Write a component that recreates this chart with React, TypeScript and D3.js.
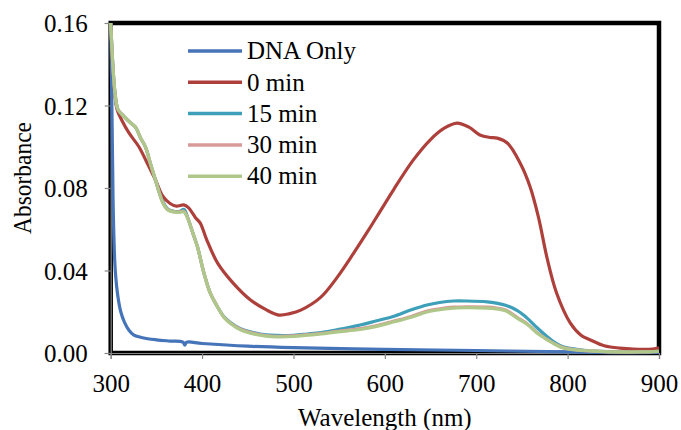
import React, { useEffect, useRef } from "react";
import * as d3 from "d3";

// wavelength (nm) / absorbance pairs
const dnaOnly: [number, number][] = [
  [300, 0.16], [301, 0.13], [302, 0.095], [303, 0.065], [305, 0.04], [308, 0.027],
  [311, 0.02], [315, 0.015], [320, 0.011], [325, 0.0088], [335, 0.0074], [350, 0.0064],
  [365, 0.0058], [379, 0.0053], [381, 0.0038], [383, 0.0052], [400, 0.0046], [450, 0.0033],
  [500, 0.0026], [600, 0.0018], [700, 0.0012], [800, 0.0005], [850, 0.0002], [900, 0.0003],
];

const min0: [number, number][] = [
  [300, 0.16], [302, 0.14], [304, 0.128], [307, 0.118], [312, 0.113], [320, 0.1067],
  [331, 0.0999], [340, 0.092], [349, 0.0839], [357, 0.076], [365, 0.0725], [372, 0.0712],
  [380, 0.0718], [385, 0.0705], [393, 0.0655], [398, 0.063], [405, 0.055], [417, 0.0436],
  [434, 0.0339], [453, 0.0257], [470, 0.021], [484, 0.0184], [496, 0.0191], [508, 0.0208],
  [530, 0.0271], [548, 0.0368], [566, 0.0485], [581, 0.0588], [595, 0.0688], [610, 0.0795],
  [631, 0.0935], [650, 0.1035], [665, 0.109], [679, 0.1115], [692, 0.1095], [704, 0.1057],
  [715, 0.1045], [723, 0.1042], [734, 0.1018], [748, 0.0921], [759, 0.0805], [768, 0.066],
  [778, 0.0451], [788, 0.029], [803, 0.0145], [815, 0.0085], [825, 0.0063], [840, 0.0035],
  [857, 0.0024], [893, 0.0019], [900, 0.0025],
];

const min15: [number, number][] = [
  [300, 0.16], [303, 0.135], [305, 0.125], [308, 0.118], [315, 0.1145], [322, 0.1115],
  [327, 0.1096], [333, 0.104], [338, 0.0999], [344, 0.091], [349, 0.0839], [353, 0.078],
  [357, 0.0735], [362, 0.07], [368, 0.0688], [375, 0.0686], [380, 0.0697], [382, 0.0685],
  [384, 0.066], [390, 0.058], [395, 0.0514], [402, 0.0388], [409, 0.029], [417, 0.0223],
  [424, 0.0175], [431, 0.0148], [442, 0.0118], [453, 0.0103], [470, 0.0088], [482, 0.0085],
  [500, 0.0086], [515, 0.0092], [530, 0.0099], [548, 0.0113], [573, 0.0136], [590, 0.0155],
  [609, 0.0177], [628, 0.0208], [646, 0.0233], [660, 0.0245], [675, 0.0252], [690, 0.0252],
  [712, 0.0248], [722, 0.0242], [732, 0.0232], [745, 0.0205], [756, 0.0168], [766, 0.0125],
  [778, 0.0078], [787, 0.0048], [795, 0.003], [810, 0.0018], [825, 0.001], [850, 0.0006],
  [880, 0.0005], [900, 0.0008],
];

const min30: [number, number][] = [
  [300, 0.16], [303, 0.135], [305, 0.125], [308, 0.118], [315, 0.1145], [322, 0.1115],
  [327, 0.1096], [333, 0.104], [338, 0.0999], [344, 0.091], [349, 0.0839], [353, 0.078],
  [357, 0.073], [362, 0.0697], [368, 0.0686], [375, 0.0684], [380, 0.0688], [384, 0.0658],
  [390, 0.058], [395, 0.0514], [402, 0.0388], [409, 0.029], [417, 0.0223], [424, 0.0173],
  [431, 0.0145], [442, 0.0115], [453, 0.0099], [470, 0.0085], [482, 0.0081], [500, 0.0083],
  [515, 0.0089], [530, 0.0095], [548, 0.0105], [573, 0.0118], [590, 0.0132], [609, 0.0154],
  [628, 0.0176], [646, 0.0203], [660, 0.0214], [675, 0.0222], [690, 0.0224], [712, 0.0222],
  [722, 0.0218], [732, 0.0209], [745, 0.0172], [756, 0.0141], [766, 0.0101], [778, 0.0065],
  [787, 0.0042], [795, 0.0026], [810, 0.0015], [825, 0.001], [850, 0.0005], [880, 0.0005],
  [900, 0.0008],
];

const min40: [number, number][] = [
  [300, 0.16], [303, 0.135], [305, 0.125], [308, 0.118], [315, 0.1145], [322, 0.1115],
  [327, 0.1096], [333, 0.104], [338, 0.0999], [344, 0.091], [349, 0.0839], [353, 0.078],
  [357, 0.0727], [362, 0.0695], [368, 0.0684], [375, 0.0682], [380, 0.0684], [384, 0.0655],
  [390, 0.058], [395, 0.0514], [402, 0.0388], [409, 0.029], [417, 0.0223], [424, 0.0172],
  [431, 0.0143], [442, 0.0112], [453, 0.0096], [470, 0.0082], [482, 0.0078], [500, 0.008],
  [515, 0.0086], [530, 0.0092], [548, 0.0102], [573, 0.0114], [590, 0.0128], [609, 0.015],
  [628, 0.0172], [646, 0.0199], [660, 0.021], [675, 0.0218], [690, 0.022], [712, 0.0218],
  [722, 0.0214], [732, 0.0205], [745, 0.0168], [756, 0.0138], [766, 0.0098], [778, 0.0063],
  [787, 0.004], [795, 0.0024], [810, 0.0014], [825, 0.001], [850, 0.0005], [880, 0.0005],
  [900, 0.0008],
];

const seriesNames = ["DNA Only", "0 min", "15 min", "30 min", "40 min"];
const seriesData = [dnaOnly, min0, min15, min30, min40];
const seriesColors = ["#4674B9", "#AE403C", "#3D9FB8", "#D89A98", "#AFC88A"];

const xTicks = [300, 400, 500, 600, 700, 800, 900];
const yTicks = [0, 0.04, 0.08, 0.12, 0.16];

const FONT = "'Liberation Serif', 'Times New Roman', Times, 'DejaVu Serif', serif";

const App = () => {
  const svgRef = useRef<SVGSVGElement>(null);

  useEffect(() => {
    const width = 681;
    const height = 430;
    const margin = { top: 23, right: 22, bottom: 77, left: 110.7 };
    const innerW = width - margin.left - margin.right;
    const innerH = height - margin.top - margin.bottom;

    const root = d3.select(svgRef.current);
    root.selectAll("*").remove();
    root.attr("width", width).attr("height", height).style("font-family", FONT);

    const svg = root.append("g").attr("transform", `translate(${margin.left},${margin.top})`);

    const x = d3.scaleLinear().domain([300, 900]).range([0, innerW]);
    const y = d3.scaleLinear().domain([0, 0.16]).range([innerH, 0]);

    // plot area frame
    svg
      .append("rect")
      .attr("x", 0)
      .attr("y", 0)
      .attr("width", innerW)
      .attr("height", innerH)
      .attr("fill", "none")
      .attr("stroke", "#000")
      .attr("stroke-width", 4.5);

    // axes
    const xAxis = svg
      .append("g")
      .attr("transform", `translate(0,${innerH})`)
      .call(d3.axisBottom(x).tickValues(xTicks).tickSize(6).tickFormat(d3.format("d")));
    const yAxis = svg
      .append("g")
      .call(d3.axisLeft(y).tickValues(yTicks).tickSize(6).tickFormat(d3.format(".2f")));

    [xAxis, yAxis].forEach((g) => {
      g.attr("font-family", null).attr("font-size", 25);
      g.select(".domain").attr("stroke", "#868686").attr("stroke-width", 1.2);
      g.selectAll(".tick line").attr("stroke", "#868686").attr("stroke-width", 1.2);
      g.selectAll(".tick text").attr("fill", "#000").style("font-family", FONT);
    });
    xAxis.selectAll(".tick text").attr("y", 21).attr("dy", "0.71em");
    yAxis.selectAll(".tick text").attr("x", -23).attr("dy", "0.34em");

    // curves
    const line = d3
      .line<[number, number]>()
      .x((d) => x(d[0]))
      .y((d) => y(d[1]))
      .curve(d3.curveCatmullRom.alpha(0.5));

    seriesData.forEach((data, i) => {
      svg
        .append("path")
        .datum(data)
        .attr("fill", "none")
        .attr("stroke", seriesColors[i])
        .attr("stroke-width", 3.2)
        .attr("stroke-linejoin", "round")
        .attr("d", line);
    });

    // legend
    const legend = svg.append("g").attr("transform", `translate(${188 - margin.left},${51 - margin.top})`);
    seriesNames.forEach((name, i) => {
      const row = legend.append("g").attr("transform", `translate(0,${i * 31.3})`);
      row
        .append("line")
        .attr("x1", 0)
        .attr("x2", 54)
        .attr("stroke", seriesColors[i])
        .attr("stroke-width", 3.5);
      row
        .append("text")
        .attr("x", 59)
        .attr("dy", "0.33em")
        .style("font-family", FONT)
        .attr("font-size", 25)
        .text(name);
    });

    // axis titles
    svg
      .append("text")
      .attr("x", innerW / 2)
      .attr("y", 426 - margin.top)
      .attr("text-anchor", "middle")
      .style("font-family", FONT)
      .attr("font-size", 25)
      .text("Wavelength (nm)");

    svg
      .append("text")
      .attr("transform", "rotate(-90)")
      .attr("x", -(178 - margin.top))
      .attr("y", 31 - margin.left)
      .attr("text-anchor", "middle")
      .attr("textLength", 112)
      .attr("lengthAdjust", "spacingAndGlyphs")
      .style("font-family", FONT)
      .attr("font-size", 25)
      .text("Absorbance");
  }, []);

  return (
    <svg
      ref={svgRef}
      style={{ position: "absolute", left: 0, top: 0, background: "#fff" }}
    ></svg>
  );
};

export default App;
